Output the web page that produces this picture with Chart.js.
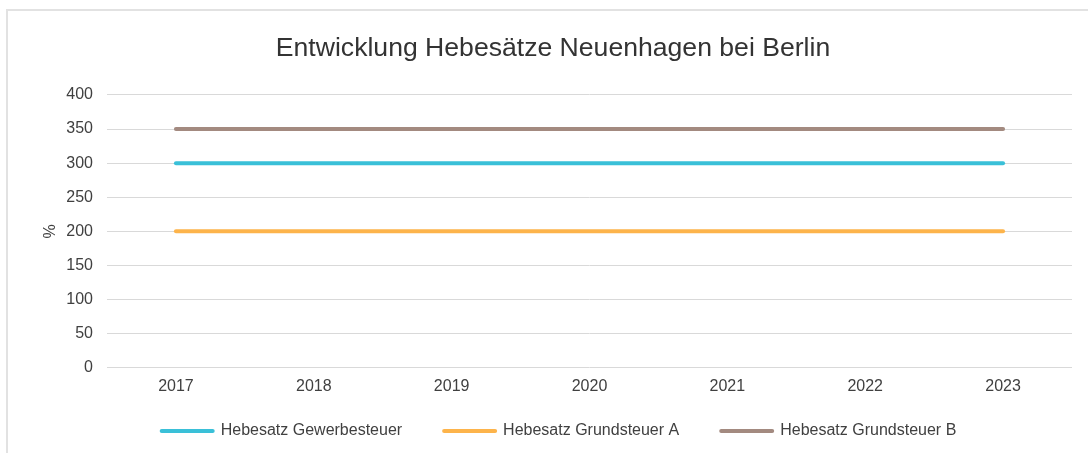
<!DOCTYPE html>
<html>
<head>
<meta charset="utf-8">
<script src="https://cdn.jsdelivr.net/npm/chart.js@4"></script>
<style>
  body { margin: 0; background: #fff; }
  #frame { position: absolute; left: 6px; top: 9px; width: 1100px; height: 470px; border: 2px solid #e2e2e2; }
  #Chart { position: absolute; left: 0; top: 0; }
</style>
</head>
<body>
<div id="frame"></div>
<canvas id="Chart" width="1088" height="453"></canvas>
<script>
const years = ['2017', '2018', '2019', '2020', '2021', '2022', '2023'];
const gewerbesteuer = [300, 300, 300, 300, 300, 300, 300];
const grundsteuerA = [200, 200, 200, 200, 200, 200, 200];
const grundsteuerB = [350, 350, 350, 350, 350, 350, 350];
const seriesNames = ['Hebesatz Gewerbesteuer', 'Hebesatz Grundsteuer A', 'Hebesatz Grundsteuer B'];

Chart.defaults.font.family = '"Liberation Sans", Arial, sans-serif';
Chart.defaults.color = '#404040';

const ctx = document.getElementById('Chart');

// legend needs wide gaps between items but sits close under the axis labels
const LEGEND_SHRINK = 24;
const legendTweak = {
  id: 'legendTweak',
  beforeLayout(chart) {
    const lg = chart.legend;
    if (lg && !lg._tweaked) {
      const fit = lg.fit;
      lg.fit = function () {
        fit.call(this);
        this.height -= LEGEND_SHRINK;
      };
      lg._tweaked = true;
    }
  },
  afterLayout(chart) {
    const lg = chart.legend;
    lg.top -= LEGEND_SHRINK;
    lg.left += 6;
    lg.right += 6;
  }
};

function line(label, data, color) {
  return {
    label: label,
    data: data,
    borderColor: color,
    backgroundColor: color,
    borderWidth: 4,
    borderCapStyle: 'round',
    pointRadius: 0,
    pointHoverRadius: 0,
    tension: 0
  };
}

const defaultLabels = Chart.defaults.plugins.legend.labels.generateLabels;

new Chart(ctx, {
  type: 'line',
  data: {
    labels: years,
    datasets: [
      line(seriesNames[0], gewerbesteuer, '#3ac0d8'),
      line(seriesNames[1], grundsteuerA, '#fdb44b'),
      line(seriesNames[2], grundsteuerB, '#a38a80')
    ]
  },
  plugins: [legendTweak],
  options: {
    responsive: false,
    animation: false,
    devicePixelRatio: 1,
    layout: {
      padding: { left: 34, right: 16, top: 10, bottom: 4 }
    },
    plugins: {
      title: {
        display: true,
        text: 'Entwicklung Hebesätze Neuenhagen bei Berlin',
        color: '#333333',
        font: { size: 26.6, weight: 'normal' },
        padding: { top: 23, bottom: 30 }
      },
      legend: {
        position: 'bottom',
        labels: {
          usePointStyle: true,
          pointStyle: 'line',
          pointStyleWidth: 51,
          padding: 42,
          color: '#404040',
          font: { size: 16 },
          generateLabels: function(chart) {
            return defaultLabels(chart).map(function(item) {
              item.lineCap = 'round';
              return item;
            });
          }
        }
      },
      tooltip: { enabled: false }
    },
    scales: {
      x: {
        offset: true,
        grid: { display: false, drawTicks: false },
        border: { display: false },
        ticks: { padding: 9, font: { size: 16 }, color: '#404040' }
      },
      y: {
        min: 0,
        max: 400,
        ticks: { stepSize: 50, padding: 14, font: { size: 16 }, color: '#404040' },
        grid: { color: '#d9d9d9', lineWidth: 1, drawTicks: false },
        border: { display: false },
        title: { display: true, text: '%', font: { size: 16 }, color: '#404040', padding: { top: 7, bottom: 0 } },
        afterFit: function(scale) { scale.width = 73; }
      }
    }
  }
});
</script>
</body>
</html>
